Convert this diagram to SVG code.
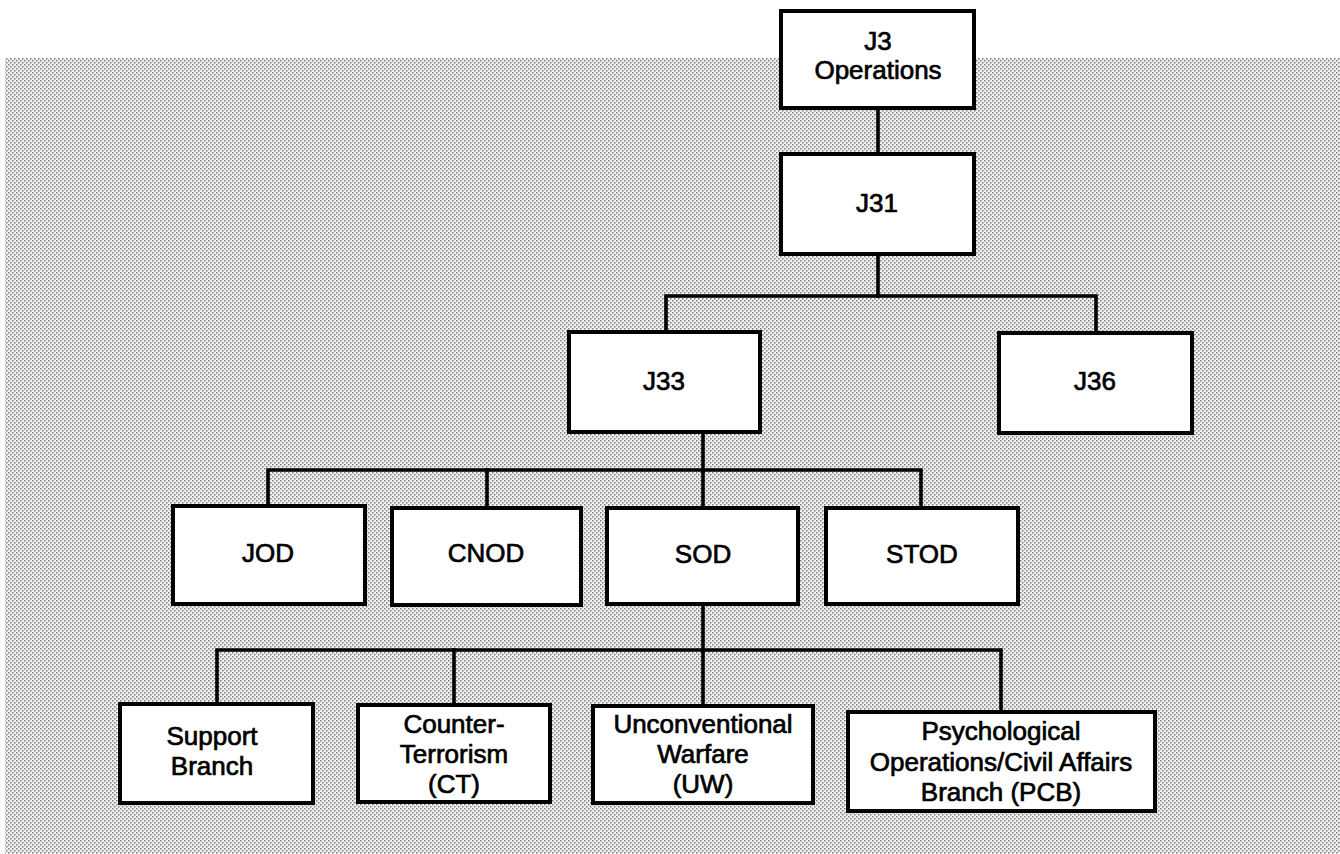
<svg xmlns="http://www.w3.org/2000/svg" width="1340" height="854" viewBox="0 0 1340 854">
  <defs>
    <pattern id="stipple" x="0" y="0" width="4" height="4" patternUnits="userSpaceOnUse">
      <rect width="4" height="4" fill="#f0f0f0"/>
      <rect x="0" y="0" width="1.5" height="1.5" fill="#7c7c7c"/>
      <rect x="2" y="2" width="1.5" height="1.5" fill="#7c7c7c"/>
    </pattern>
  </defs>
  <style>
    .box { fill: #ffffff; stroke: #000000; stroke-width: 4; }
    .lbl { font-family: "Liberation Sans", Arial, Helvetica, sans-serif; font-size: 26px; fill: #000000; stroke: #000000; stroke-width: 0.7; text-anchor: middle; }
    .conn { fill: none; stroke: #000000; stroke-width: 3.6; stroke-linecap: square; stroke-linejoin: miter; }
  </style>
  <rect x="0" y="0" width="1340" height="854" fill="#ffffff"/>
  <rect x="5" y="58" width="1335" height="796" fill="url(#stipple)"/>

  <g id="connectors">
    <path class="conn" d="M878,110 V152"/>
    <path class="conn" d="M878,256 V296"/>
    <path class="conn" d="M666,331 V296 H1096 V332"/>
    <path class="conn" d="M703,434 V470"/>
    <path class="conn" d="M268,505 V470 H921 V507"/>
    <path class="conn" d="M487,470 V507"/>
    <path class="conn" d="M703,470 V507"/>
    <path class="conn" d="M703,606 V650"/>
    <path class="conn" d="M217,703 V650 H1001 V711"/>
    <path class="conn" d="M454,650 V704"/>
    <path class="conn" d="M703,650 V705"/>
  </g>

  <g id="j3">
    <rect class="box" x="781" y="11" width="193" height="97"/>
    <text class="lbl" x="878" y="50">J3</text>
    <text class="lbl" x="878" y="79">Operations</text>
  </g>
  <g id="j31">
    <rect class="box" x="781" y="154" width="193" height="100"/>
    <text class="lbl" x="877" y="212">J31</text>
  </g>
  <g id="j33">
    <rect class="box" x="569" y="332" width="191" height="100"/>
    <text class="lbl" x="664" y="390">J33</text>
  </g>
  <g id="j36">
    <rect class="box" x="999" y="333" width="193" height="100"/>
    <text class="lbl" x="1095" y="390">J36</text>
  </g>
  <g id="jod">
    <rect class="box" x="173" y="506" width="192" height="98"/>
    <text class="lbl" x="268" y="562">JOD</text>
  </g>
  <g id="cnod">
    <rect class="box" x="392" y="508" width="189" height="97"/>
    <text class="lbl" x="486" y="562">CNOD</text>
  </g>
  <g id="sod">
    <rect class="box" x="607" y="508" width="191" height="96"/>
    <text class="lbl" x="703" y="563">SOD</text>
  </g>
  <g id="stod">
    <rect class="box" x="826" y="508" width="192" height="96"/>
    <text class="lbl" x="922" y="563">STOD</text>
  </g>
  <g id="support">
    <rect class="box" x="120" y="704" width="193" height="99"/>
    <text class="lbl" x="212" y="745">Support</text>
    <text class="lbl" x="212" y="775">Branch</text>
  </g>
  <g id="ct">
    <rect class="box" x="358" y="705" width="192" height="97"/>
    <text class="lbl" x="454" y="733">Counter-</text>
    <text class="lbl" x="454" y="763">Terrorism</text>
    <text class="lbl" x="454" y="793">(CT)</text>
  </g>
  <g id="uw">
    <rect class="box" x="593" y="706" width="220" height="97"/>
    <text class="lbl" x="703" y="733">Unconventional</text>
    <text class="lbl" x="703" y="763">Warfare</text>
    <text class="lbl" x="703" y="793">(UW)</text>
  </g>
  <g id="pcb">
    <rect class="box" x="848" y="712" width="307" height="99"/>
    <text class="lbl" x="1001" y="740">Psychological</text>
    <text class="lbl" x="1001" y="771">Operations/Civil Affairs</text>
    <text class="lbl" x="1001" y="801">Branch (PCB)</text>
  </g>
</svg>
